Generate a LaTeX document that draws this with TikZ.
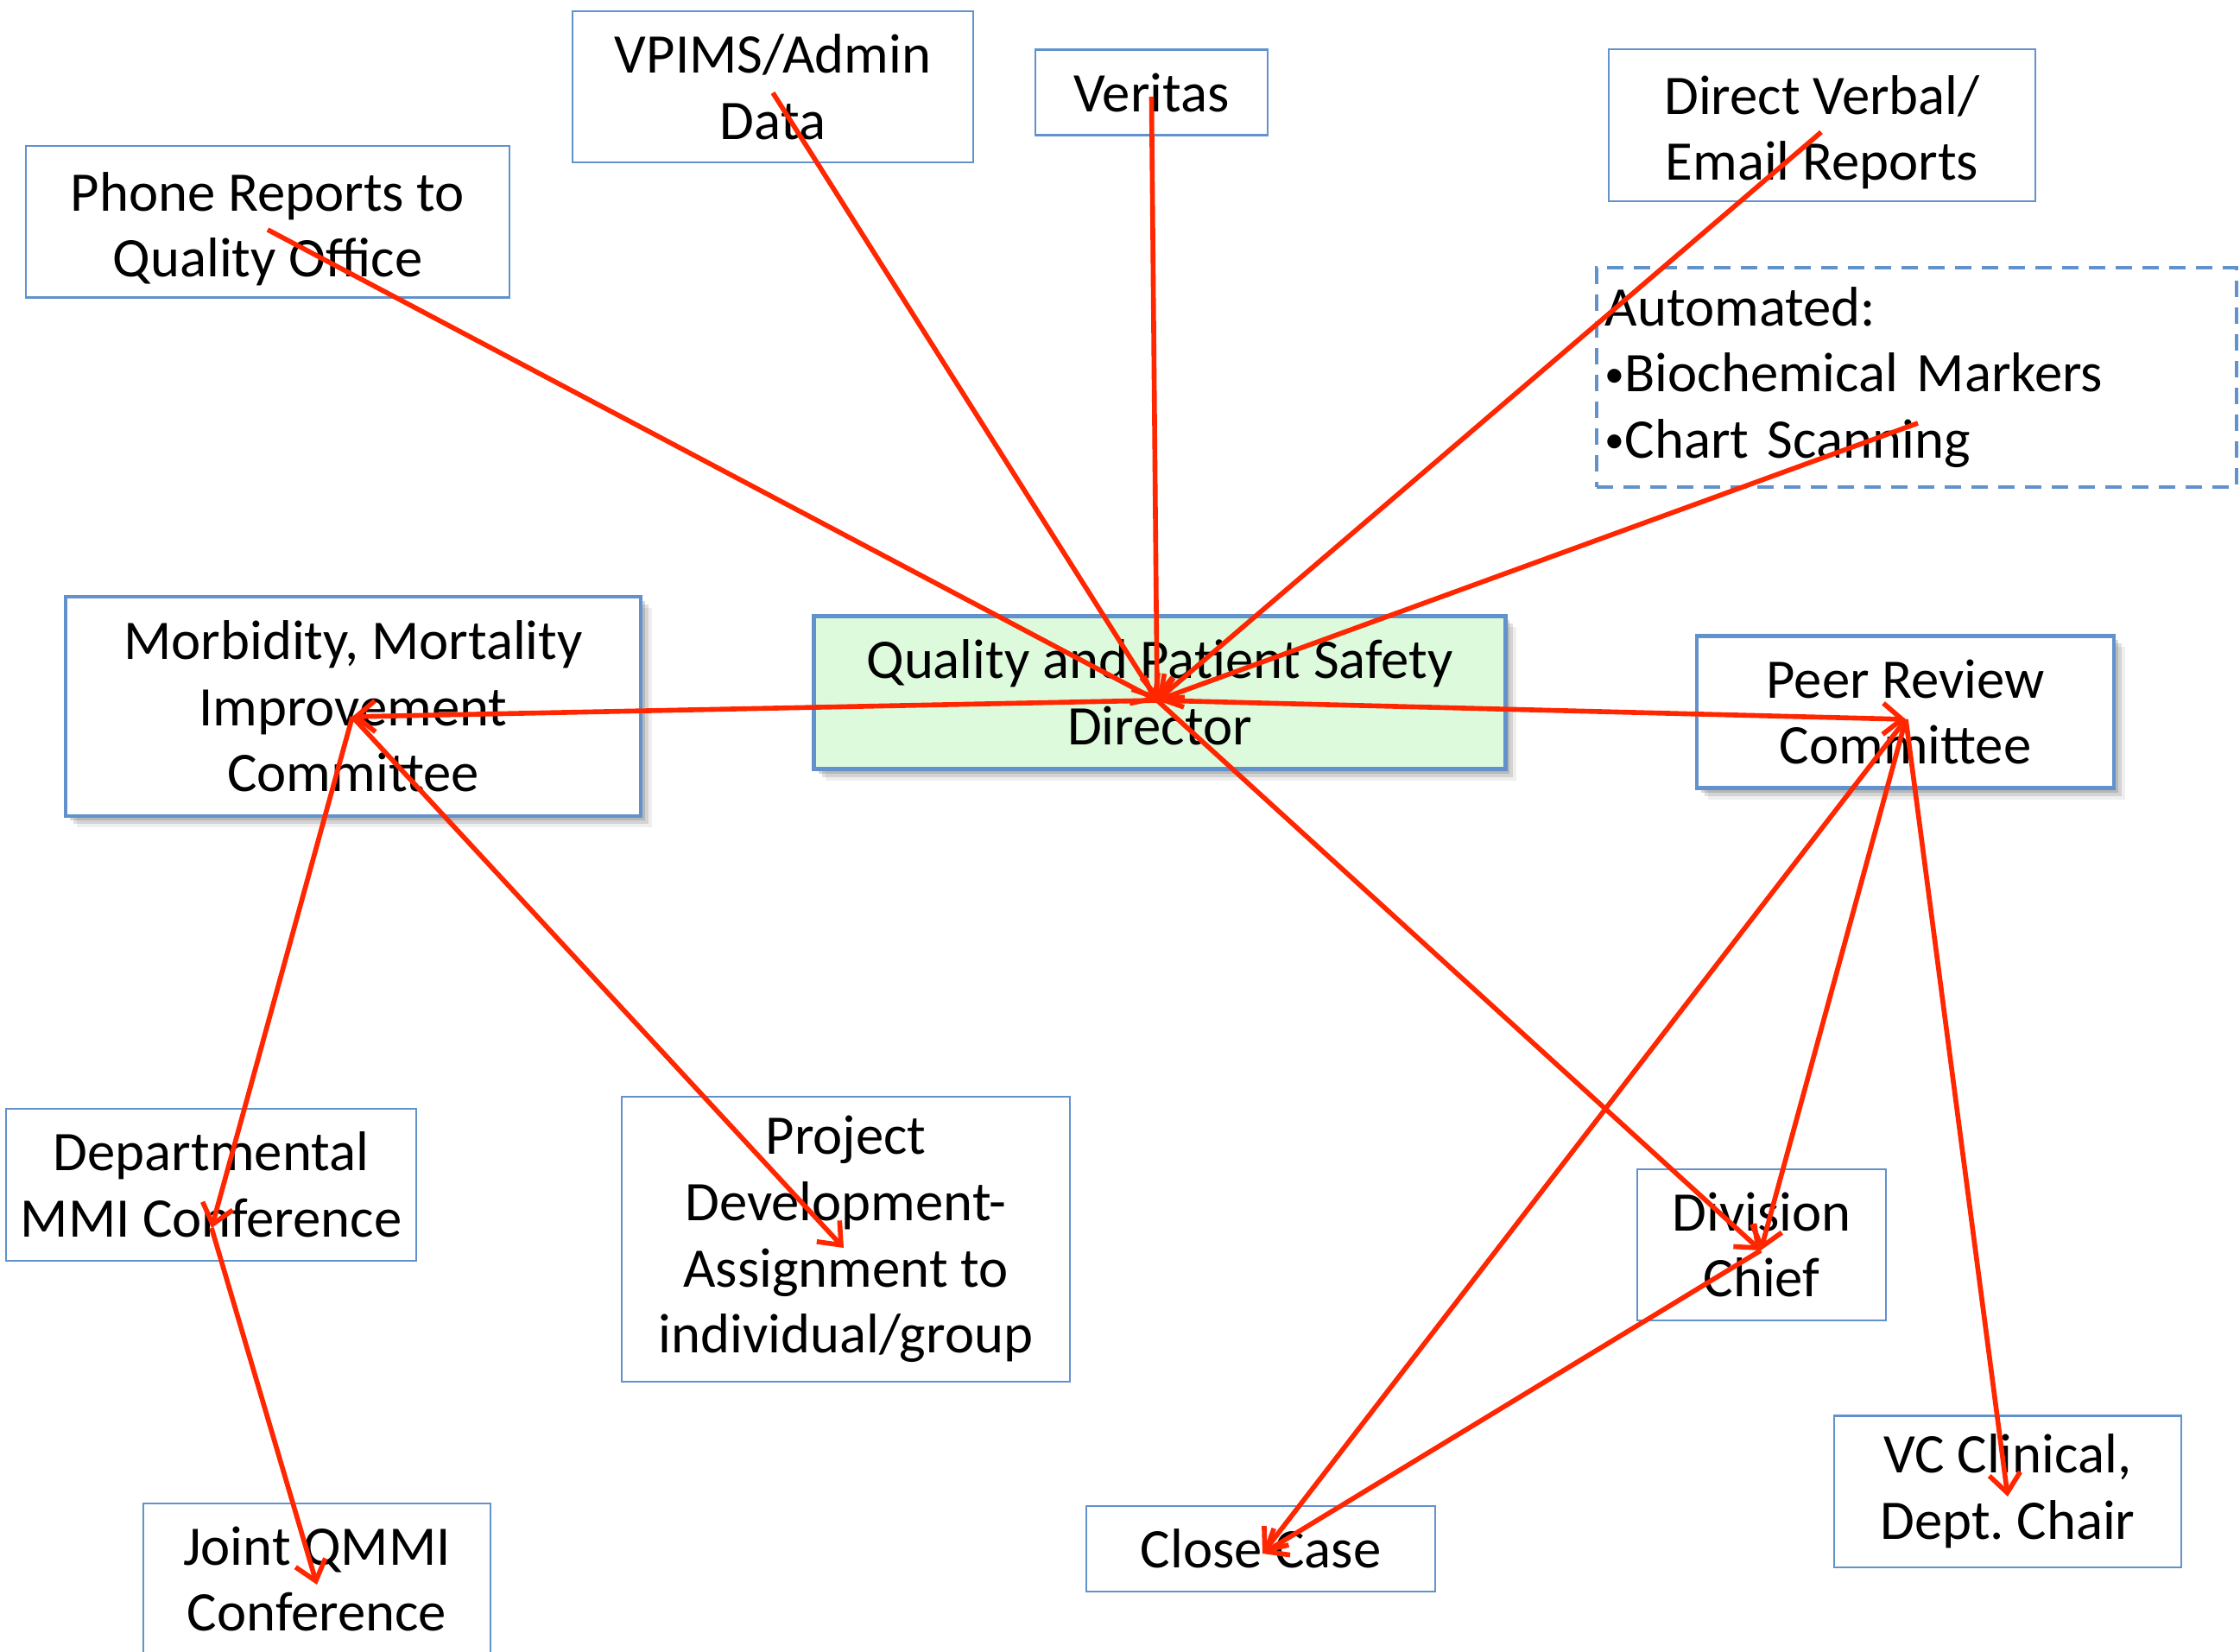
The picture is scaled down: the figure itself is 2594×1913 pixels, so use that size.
\documentclass[tikz,border=0pt]{standalone}
\usepackage{fontspec}
\setmainfont{Carlito}
\usetikzlibrary{arrows.meta,shadows}
\definecolor{boxblue}{RGB}{98,146,204}
\definecolor{arrred}{RGB}{255,38,0}
\definecolor{qfill}{RGB}{221,250,221}
\newcommand{\smallbul}{\raisebox{1.6pt}{\fontsize{13}{13}\selectfont •}}
\newcommand{\topstrut}{\rule{0pt}{17.5pt}}
\begin{document}
\frenchspacing
\begin{tikzpicture}[x=0.01cm,y=-0.01cm,
  every node/.style={font=\fontsize{18.4}{21.8}\selectfont},
  softshadow/.style={
    drop shadow={shadow xshift=0.05cm,shadow yshift=-0.05cm,opacity=0.25,fill=black!60},
    drop shadow={shadow xshift=0.09cm,shadow yshift=-0.09cm,opacity=0.2,fill=black!60},
    drop shadow={shadow xshift=0.13cm,shadow yshift=-0.13cm,opacity=0.1,fill=black!60}},
  thinbox/.style={draw=boxblue,line width=0.6pt,fill=white,align=center,inner sep=0pt},
  thickbox/.style={draw=boxblue,line width=1.3pt,fill=white,align=center,inner sep=0pt,softshadow},
  dashbox/.style={draw=boxblue,line width=1.1pt,dash pattern=on 0.19cm off 0.12cm,align=left,inner xsep=0.1cm,inner ysep=0pt},
  flow/.style={draw=arrred,line width=1.6pt,-{Straight Barb[length=0.22cm,width=0.36cm]}}
]
\fill[white] (0,0) rectangle (2594,1913);
\useasboundingbox (0,0) rectangle (2594,1913);

% nodes
\node[thinbox,minimum width=5.59cm,minimum height=1.75cm] (phone) at (310,257) {\topstrut Phone Reports to\\Quality Office};
\node[thinbox,minimum width=4.64cm,minimum height=1.75cm] (vpims) at (895,100.5) {VPIMS/Admin\\Data};
\node[thinbox,minimum width=2.69cm,minimum height=0.99cm] (veritas) at (1333.5,107) {Veritas};
\node[thinbox,minimum width=4.94cm,minimum height=1.76cm] (direct) at (2110,145) {\topstrut Direct Verbal/\\Email Reports};
\node[dashbox,minimum width=7.41cm,minimum height=2.54cm,text width=7.21cm] (auto) at (2219.5,437) {\mbox{Automated:}\\\mbox{\smallbul Biochemical Markers}\\\mbox{\smallbul Chart Scanning}};
\node[thickbox,fill=qfill,minimum width=8.00cm,minimum height=1.77cm] (qpsd) at (1343,802) {Quality and Patient Safety\\Director};
\node[thickbox,minimum width=6.66cm,minimum height=2.54cm] (mmi) at (409,818) {Morbidity, Mortality\\Improvement\\Committee};
\node[thickbox,minimum width=4.83cm,minimum height=1.76cm] (peer) at (2206.5,824.5) {Peer Review\\Committee};
\node[thinbox,minimum width=4.75cm,minimum height=1.76cm] (dept) at (244.5,1372) {Departmental\\MMI Conference};
\node[thinbox,minimum width=5.19cm,minimum height=3.29cm] (proj) at (979.5,1435) {Project\\Development-\\Assignment to\\individual/group};
\node[thinbox,minimum width=2.88cm,minimum height=1.75cm] (div) at (2040,1441.5) {Division\\Chief};
\node[thinbox,minimum width=4.04cm,minimum height=0.99cm] (close) at (1460,1793.5) {Close Case};
\node[thinbox,minimum width=4.02cm,minimum height=1.75cm] (vc) at (2325,1727) {VC Clinical,\\Dept. Chair};
\node[thinbox,minimum width=4.02cm,minimum height=1.75cm] (joint) at (367,1828.5) {Joint QMMI\\Conference};

% connector hubs
\coordinate (phs) at ([shift={(0,9)}]phone.center);
\coordinate (vps) at ([shift={(0,7)}]vpims.center);
\coordinate (ves) at ([shift={(0,5)}]veritas.center);
\coordinate (drs) at ([shift={(-1,8)}]direct.center);
\coordinate (aus) at ([shift={(1.5,53)}]auto.center);
\coordinate (qh) at ([shift={(-3,9)}]qpsd.center);
\coordinate (mh) at ([shift={(-1,12)}]mmi.center);
\coordinate (ph) at ([shift={(0.5,8.5)}]peer.center);
\coordinate (dh) at ([shift={(0.5,50)}]dept.center);
\coordinate (prh) at ([shift={(-2.5,10)}]proj.center);
\coordinate (dvh) at ([shift={(-1,6.5)}]div.center);
\coordinate (ch) at ([shift={(2,5.5)}]close.center);
\coordinate (vch) at ([shift={(0,6)}]vc.center);
\coordinate (jh) at ([shift={(0,6.5)}]joint.center);

% connectors
\draw[flow] (phs) -- (qh);
\draw[flow] (vps) -- (qh);
\draw[flow] (ves) -- (qh);
\draw[flow] (drs) -- (qh);
\draw[flow] (aus) -- (qh);
\draw[flow] (qh) -- (mh);
\draw[flow] (qh) -- (ph);
\draw[flow] (qh) -- (dvh);
\draw[flow] (mh) -- (dh);
\draw[flow] (dh) -- (jh);
\draw[flow] (mh) -- (prh);
\draw[flow] (ph) -- (dvh);
\draw[flow] (ph) -- (ch);
\draw[flow] (ph) -- (vch);
\draw[flow] (dvh) -- (ch);
\end{tikzpicture}
\end{document}
